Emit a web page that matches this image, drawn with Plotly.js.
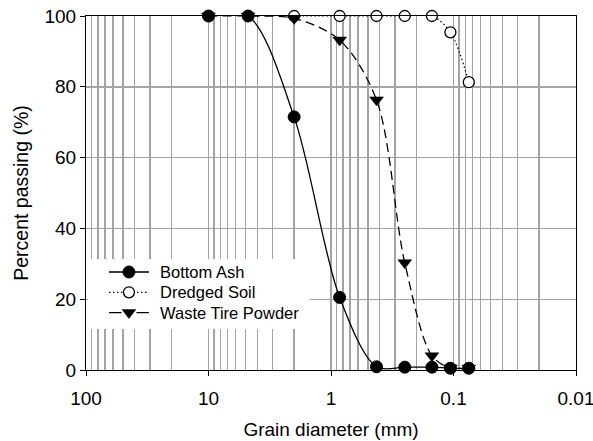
<!DOCTYPE html>
<html>
<head>
<meta charset="utf-8">
<script src="https://cdn.plot.ly/plotly-3.0.1.min.js"></script>
<style>
  html, body { margin: 0; padding: 0; background: #ffffff; }
  #chart { width: 593px; height: 441px; }
</style>
</head>
<body>
<div id="chart"></div>
<script>
// Sieve sizes (mm) and percent passing for each material
const sieveBottomAsh = [10, 4.75, 2.0, 0.85, 0.425, 0.25, 0.15, 0.106, 0.075];
const passBottomAsh  = [100, 100, 71.5, 20.5, 0.9, 0.8, 0.8, 0.5, 0.5];

const sieveDredged = [2.0, 0.85, 0.425, 0.25, 0.15, 0.106, 0.075];
const passDredged  = [100, 100, 100, 100, 100, 95.4, 81.3];

const sieveTire = [10, 4.75, 2.0, 0.85, 0.425, 0.25, 0.15, 0.106, 0.075];
const passTire  = [100, 100, 99.3, 93.2, 76.3, 30.3, 4.0, 0.6, 0.5];

const seriesNames = ['Bottom Ash', 'Dredged Soil', 'Waste Tire Powder'];

const xTickVals = [100, 10, 1, 0.1, 0.01];
const xTickText = ['100', '10', '1', '0.1', '0.01'];
const yTickVals = [0, 20, 40, 60, 80, 100];

// minor grid at every 2..9 multiple of each decade
const minorVals = [];
for (let e = -2; e < 2; e++) {
  for (let m = 2; m <= 9; m++) minorVals.push(m * Math.pow(10, e));
}

const FONT = 'Liberation Sans, Arial, Helvetica, sans-serif';
const GRID = '#a3a3a3';

// plot-area box in pixels (used by the pixel overlay axes for the key)
const W = 593, H = 441;
const M = { l: 86, r: 16.5, t: 16, b: 71 };
const plotX = [M.l, W - M.r];
const plotY = [H - M.b, M.t];
const X_LOG = [2, -2];
const Y_RANGE = [0, 100];

// pixel -> main-axis value (for the key background box)
const pxToX = px => Math.pow(10, X_LOG[0] + (px - plotX[0]) / (plotX[1] - plotX[0]) * (X_LOG[1] - X_LOG[0]));
const pxToY = py => Y_RANGE[0] + (plotY[0] - py) / (plotY[0] - plotY[1]) * (Y_RANGE[1] - Y_RANGE[0]);

// series styles
const styles = [
  { line: { color: '#000', width: 1.3 },
    marker: { symbol: 'circle', size: 12, color: '#000', line: { color: '#000', width: 1 } } },
  { line: { color: '#000', width: 1.2, dash: '1.5px,2.5px' },
    marker: { symbol: 'circle', size: 11, color: '#fff', line: { color: '#000', width: 1.3 } } },
  { line: { color: '#000', width: 1.3, dash: '9px,5px' },
    marker: { symbol: 'triangle-down', size: 12, color: '#000', line: { color: '#000', width: 0.5 } } }
];

const seriesX = [sieveBottomAsh, sieveDredged, sieveTire];
const seriesY = [passBottomAsh, passDredged, passTire];

const traces = seriesX.map((xs, i) => ({
  x: xs, y: seriesY[i], name: seriesNames[i],
  type: 'scatter', mode: 'lines+markers', cliponaxis: false, showlegend: false,
  line: Object.assign({ shape: 'spline', smoothing: 0.9 }, styles[i].line),
  marker: styles[i].marker
}));

// key box (pixel units on the overlay axes)
const key = { left: 88, right: 310, top: 259, bottom: 329,
              lineX0: 109, lineX1: 149, textX: 158, rowY0: 272, rowGap: 20.3 };

seriesNames.forEach((name, i) => {
  const ry = key.rowY0 + i * key.rowGap;
  const mx = (key.lineX0 + key.lineX1) / 2;
  const lineStyle = Object.assign({}, styles[i].line);
  if (i === 2) lineStyle.dash = '12.5px,15px,12.5px';
  traces.push({
    x: [key.lineX0, mx, key.lineX1], y: [ry, ry, ry],
    xaxis: 'x2', yaxis: 'y2', type: 'scatter', mode: 'lines+markers',
    showlegend: false, hoverinfo: 'skip', cliponaxis: false,
    line: lineStyle,
    marker: Object.assign({}, styles[i].marker, { opacity: [0, 1, 0] })
  });
});

const annotations = seriesNames.map((name, i) => ({
  xref: 'x2', yref: 'y2', x: key.textX, y: key.rowY0 + i * key.rowGap,
  xanchor: 'left', yanchor: 'middle', showarrow: false, text: name,
  font: { family: FONT, size: 16.5, color: '#000' }
}));

const layout = {
  width: W, height: H,
  margin: { l: M.l, r: M.r, t: M.t, b: M.b, pad: 0 },
  paper_bgcolor: '#fff', plot_bgcolor: '#fff',
  font: { family: FONT, size: 19, color: '#000' },
  showlegend: false,
  xaxis: {
    type: 'log', range: X_LOG, autorange: false,
    tickmode: 'array', tickvals: xTickVals, ticktext: xTickText,
    ticks: 'outside', ticklen: 5, tickwidth: 1, tickcolor: '#000',
    ticklabelstandoff: 6, ticklabeloverflow: 'allow',
    showline: true, linecolor: '#000', linewidth: 1, mirror: true,
    showgrid: true, gridcolor: GRID, gridwidth: 1.4,
    minor: { tickmode: 'array', tickvals: minorVals, showgrid: true, gridcolor: GRID, gridwidth: 1.4, ticks: '' },
    zeroline: false,
    tickfont: { family: FONT, size: 19, color: '#000' },
    title: { text: 'Grain diameter (mm)', font: { family: FONT, size: 19, color: '#000' }, standoff: 14 }
  },
  yaxis: {
    range: Y_RANGE, autorange: false,
    tickmode: 'array', tickvals: yTickVals,
    ticks: 'outside', ticklen: 5, tickwidth: 1, tickcolor: '#000',
    showline: true, linecolor: '#000', linewidth: 1, mirror: true,
    showgrid: true, gridcolor: GRID, gridwidth: 1.4,
    zeroline: false,
    tickfont: { family: FONT, size: 19, color: '#000' },
    title: { text: 'Percent passing (%)', font: { family: FONT, size: 19.5, color: '#000' }, standoff: 10 }
  },
  // pixel-unit overlay used to lay out the key
  xaxis2: { overlaying: 'x', anchor: 'y2', range: plotX, visible: false, showgrid: false, zeroline: false },
  yaxis2: { overlaying: 'y', anchor: 'x2', range: plotY, visible: false, showgrid: false, zeroline: false },
  shapes: [
    { type: 'rect', xref: 'x', yref: 'y', layer: 'between',
      x0: pxToX(key.left), x1: pxToX(key.right), y0: pxToY(key.top), y1: pxToY(key.bottom),
      fillcolor: '#fff', line: { width: 0 } }
  ],
  annotations: annotations
};

Plotly.newPlot('chart', traces, layout, { displayModeBar: false, staticPlot: true });
</script>
</body>
</html>
